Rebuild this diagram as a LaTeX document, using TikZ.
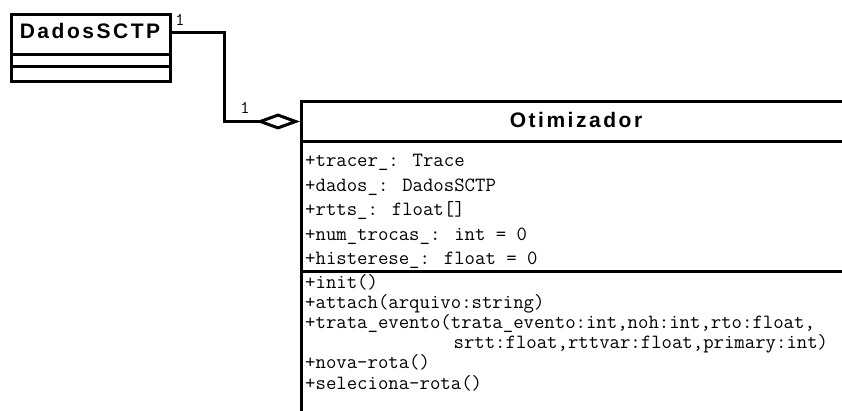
\documentclass[tikz,border=0pt]{standalone}
\usepackage{fontspec}
\usetikzlibrary{arrows.meta}
\newfontfamily\classfont[LetterSpace=12]{Liberation Sans}
\begin{document}
\begin{tikzpicture}[x=1pt,y=-1pt,
  umlline/.style={line width=3pt, line join=miter},
  classbox/.style={draw, umlline, anchor=north west, inner sep=0pt},
  classtitle/.style={font=\classfont\bfseries\fontsize{21}{24}\selectfont, inner sep=0pt},
  member/.style={font=\ttfamily\fontsize{20.2}{22}\selectfont, anchor=base west, inner sep=0pt},
  mult/.style={font=\ttfamily\fontsize{18}{20}\selectfont, inner sep=0pt}]
\useasboundingbox (0,0) rectangle (842,411);
\clip (0,0) rectangle (842,411);

% class DadosSCTP: name, empty attribute and operation compartments
\node[classbox, minimum width=159pt, minimum height=67pt] (dados) at (10,13) {};
\draw[umlline] (10,55) -- (169,55) (10,67) -- (169,67);
\node[classtitle] (dadosname) at (90,31) {DadosSCTP};

% class Otimizador (wider than the page, runs off the right and bottom)
\node[classbox, minimum width=550pt, minimum height=330pt] (otim) at (300,100) {};
\draw[umlline] (300,142) -- (850,142) (300,272) -- (850,272);
\node[classtitle] (otimname) at (576,119.5) {Otimizador};

% attributes
\node[member] (a1) at (305,167) {+tracer\_: Trace};
\node[member] (a2) at (305,191.5) {+dados\_: DadosSCTP};
\node[member] (a3) at (305,216) {+rtts\_: float[]};
\node[member] (a4) at (305,240.5) {+num\_trocas\_: int = 0};
\node[member] (a5) at (305,265) {+histerese\_: float = 0};

% operations
\node[member] (m1) at (305,288) {+init()};
\node[member] (m2) at (305,308) {+attach(arquivo:string)};
\node[member] (m3) at (305,328) {+trata\_evento(trata\_evento:int,noh:int,rto:float,};
\node[member] (m3b) at (453.4,348) {srtt:float,rttvar:float,primary:int)};
\node[member] (m4) at (305,368) {+nova-rota()};
\node[member] (m5) at (305,389) {+seleciona-rota()};

% aggregation DadosSCTP <>-- Otimizador
\coordinate (dport) at ([yshift=-20pt]dados.north east);
\coordinate (oport) at ([yshift=-21.5pt]otim.north west);
\draw[umlline, -{Diamond[open, length=44pt, width=16pt]}]
  (dport) -- ++(52,0) |- (oport);
\node[mult] (multd) at (180,20) {1};
\node[mult] (multo) at (245,108) {1};
\end{tikzpicture}
\end{document}
